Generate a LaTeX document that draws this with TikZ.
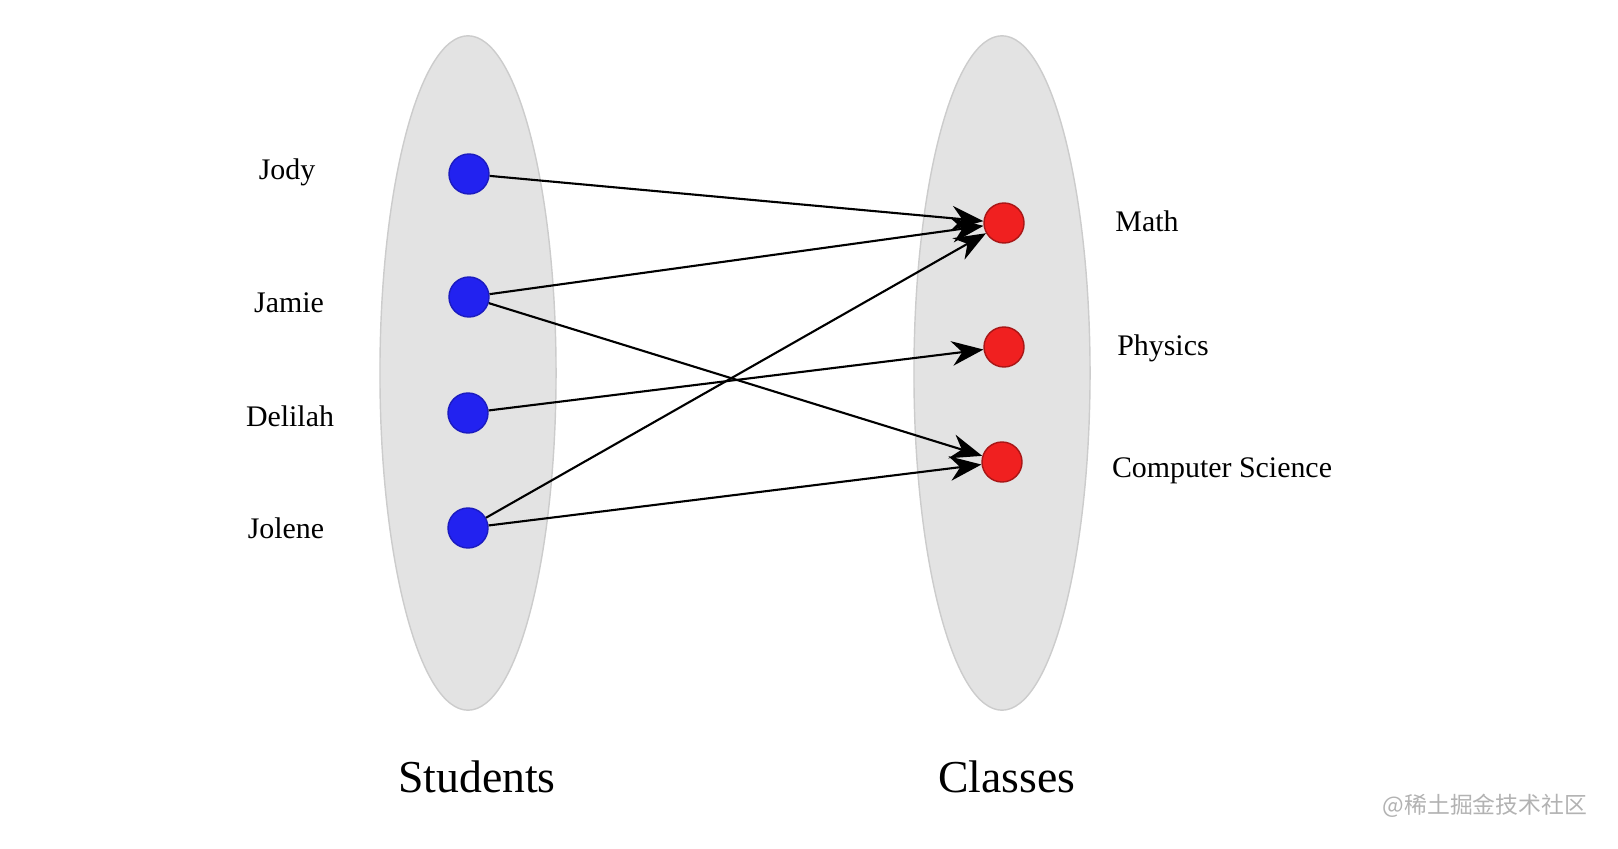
\documentclass[tikz,border=0pt]{standalone}
\usepackage{fontspec}
\setmainfont{Liberation Serif}
\newfontfamily\cjk{Noto Sans CJK SC}
\usetikzlibrary{arrows.meta,shapes.geometric}
\definecolor{dotblue}{HTML}{2222F0}
\definecolor{dotred}{HTML}{F02020}
\begin{document}
\begin{tikzpicture}[x=0.01cm,y=-0.01cm,
  blob/.style={ellipse,fill=gray!22,draw=gray!40,minimum width=1.76cm,minimum height=6.74cm,inner sep=0},
  bdot/.style={circle,fill=dotblue,draw=dotblue!80!black,minimum size=0.4cm,inner sep=0},
  rdot/.style={circle,fill=dotred,draw=dotred!70!black,minimum size=0.4cm,inner sep=0},
  lab/.style={font=\fontsize{8.5}{10}\selectfont},
  big/.style={font=\fontsize{13}{16}\selectfont},
  arr/.style={-{Stealth[length=9pt,width=7pt]},semithick}]
\useasboundingbox (0,0) rectangle (1618,849);
\node[blob] (L) at (468,373) {};
\node[blob] (R) at (1002,373) {};
\node[bdot] (jody) at (469,174) {};
\node[bdot] (jamie) at (469,297) {};
\node[bdot] (delilah) at (468,413) {};
\node[bdot] (jolene) at (468,528) {};
\node[rdot] (math) at (1004,223) {};
\node[rdot] (phys) at (1004,347) {};
\node[rdot] (cs) at (1002,462) {};
\node[lab] (t1) at (287,172) {Jody};
\node[lab] (t2) at (289,303) {Jamie};
\node[lab] (t3) at (290,416) {Delilah};
\node[lab] (t4) at (286,528) {Jolene};
\node[lab] (t5) at (1147,221) {Math};
\node[lab] (t6) at (1163,348) {Physics};
\node[lab] (t7) at (1222,471) {Computer Science};
\node[big] (s) at (477,777) {Students};
\node[big] (c) at (1007,777) {Classes};
\node[font=\cjk\fontsize{6.5}{8}\selectfont,text=gray!60] (w) at (1485,806) {@稀土掘金技术社区};
\draw[arr] (jody) -- (math);
\draw[arr] (jamie) -- (math);
\draw[arr] (jamie) -- (cs);
\draw[arr] (delilah) -- (phys);
\draw[arr] (jolene) -- (math);
\draw[arr] (jolene) -- (cs);
\end{tikzpicture}
\end{document}
